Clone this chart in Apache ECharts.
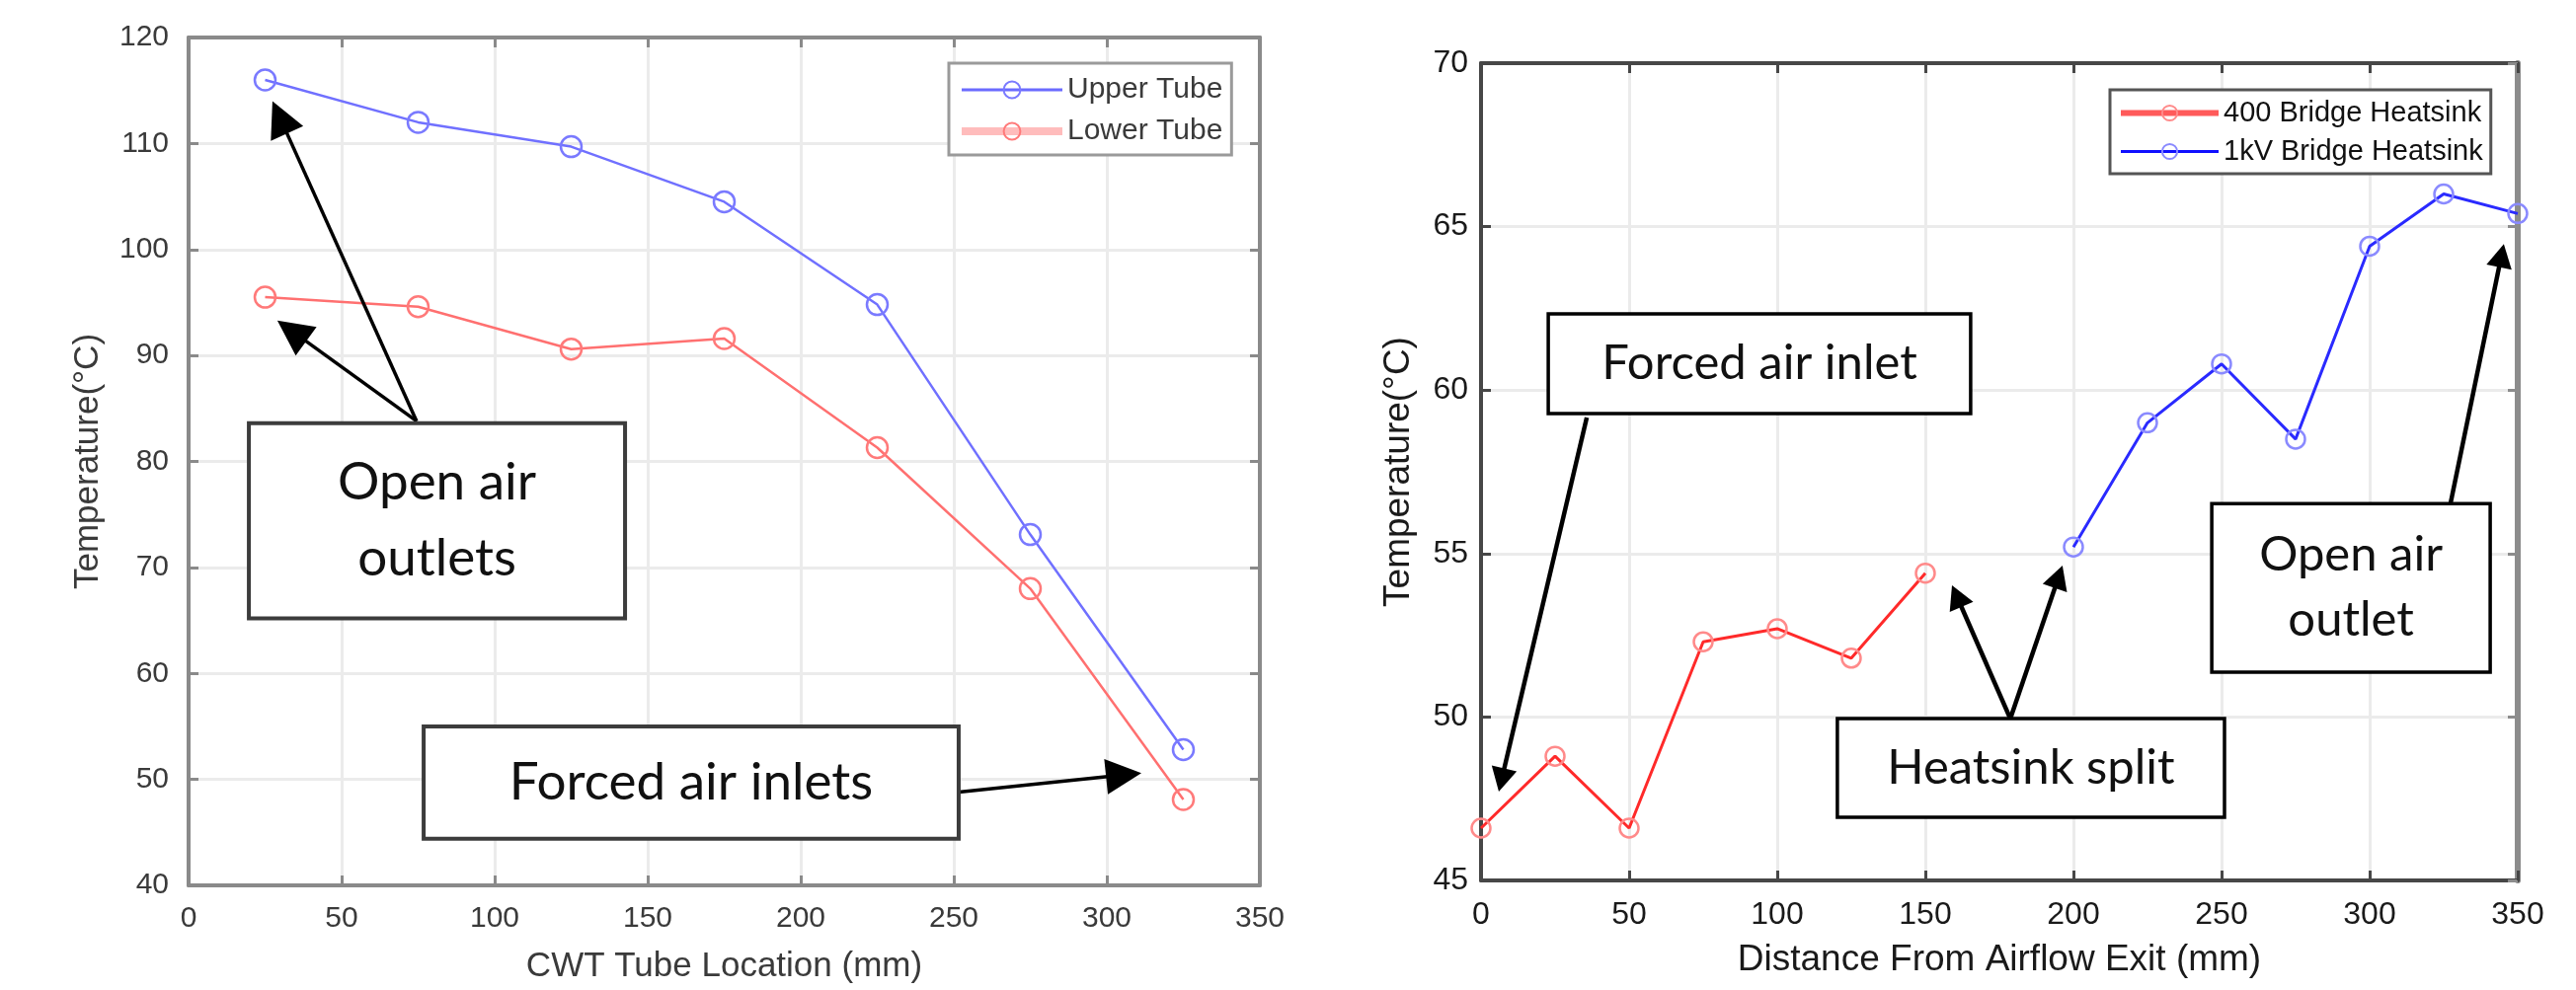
<!DOCTYPE html>
<html><head><meta charset="utf-8">
<script src="https://cdn.jsdelivr.net/npm/echarts@6/dist/echarts.min.js"></script>
<style>html,body{margin:0;padding:0;background:#fff}#c{width:2609px;height:1003px}</style>
</head><body><div id="c"></div>
<script>
// ---- data ----
const tubeLocation = [25, 75, 125, 175, 225, 275, 325];
const upperTube = [116.0, 112.0, 109.7, 104.5, 94.8, 73.1, 52.8];
const lowerTube = [95.5, 94.6, 90.6, 91.6, 81.3, 68.0, 48.1];
const dist400 = [0, 25, 50, 75, 100, 125, 150];
const bridge400 = [46.6, 48.8, 46.6, 52.3, 52.7, 51.8, 54.4];
const dist1k = [200, 225, 250, 275, 300, 325, 350];
const bridge1k = [55.2, 59.0, 60.8, 58.5, 64.4, 66.0, 65.4];
const leftXTicks = [0, 50, 100, 150, 200, 250, 300, 350];
const leftYTicks = [40, 50, 60, 70, 80, 90, 100, 110, 120];
const rightXTicks = [0, 50, 100, 150, 200, 250, 300, 350];
const rightYTicks = [45, 50, 55, 60, 65, 70];
const seriesNames = ['Upper Tube', 'Lower Tube', '400 Bridge Heatsink', '1kV Bridge Heatsink'];

// annotations (in data coordinates of each panel)
const leftNotes = [
  {box: [19.7, 83.6, 142.6, 65.2], text: 'Open air\noutlets', lh: 77,
   arrows: [[74.5, 83.8, 27.4, 114.0], [74.5, 83.8, 29.0, 93.3]]},
  {box: [76.8, 55.0, 251.6, 44.4], text: 'Forced air inlets', lh: 60,
   arrows: [[251.6, 48.8, 311.3, 50.6]]}
];
const rightNotes = [
  {box: [22.7, 62.33, 165.3, 59.28], text: 'Forced air inlet', lh: 60,
   arrows: [[35.7, 59.16, 6.0, 47.72]]},
  {box: [120.3, 49.95, 251.0, 46.93], text: 'Heatsink split', lh: 60,
   arrows: [[178.7, 49.95, 159.0, 54.03], [178.7, 49.95, 196.3, 54.63]]},
  {box: [246.7, 56.53, 340.7, 51.37], text: 'Open air\noutlet', lh: 66,
   arrows: [[327.3, 56.53, 345.3, 64.47]]}
];

const FONT = '"Liberation Sans", Arial, sans-serif';
const NOTEFONT = 'Lato, "Open Sans", sans-serif';

function pairs(xs, ys) { return xs.map((x, i) => [x, ys[i]]); }

function xAx(grid, ticks, pos, main, col, lw, name, fs, gap, labCol) {
  return {
    type: 'value', gridIndex: grid, position: pos,
    min: ticks[0], max: ticks[ticks.length - 1], interval: ticks[1] - ticks[0],
    name: main ? name : '', nameLocation: 'middle', nameGap: gap,
    nameTextStyle: {fontFamily: FONT, fontSize: fs + 5, color: labCol},
    axisLine: {show: true, onZero: false, lineStyle: {color: col, width: lw}},
    axisTick: {show: true, inside: true, length: 10, lineStyle: {color: col, width: 3}},
    axisLabel: {show: main, fontFamily: FONT, fontSize: fs, color: labCol, margin: 19},
    splitLine: {show: main, lineStyle: {color: '#ebebeb', width: 3}}
  };
}
function yAx(grid, ticks, pos, main, col, lw, name, fs, gap, labCol, margin) {
  return {
    type: 'value', gridIndex: grid, position: pos,
    min: ticks[0], max: ticks[ticks.length - 1], interval: ticks[1] - ticks[0],
    name: main ? name : '', nameLocation: 'middle', nameGap: gap,
    nameTextStyle: {fontFamily: FONT, fontSize: fs + 5, color: labCol},
    axisLine: {show: true, onZero: false, lineStyle: {color: col, width: lw}},
    axisTick: {show: true, inside: true, length: 10, lineStyle: {color: col, width: 3}},
    axisLabel: {show: main, fontFamily: FONT, fontSize: fs, color: labCol, margin: margin},
    splitLine: {show: main, lineStyle: {color: '#ebebeb', width: 3}}
  };
}

function lineSeries(name, data, xi, yi, lineCol, markCol, lw, size) {
  return {
    name: name, type: 'line', xAxisIndex: xi, yAxisIndex: yi, data: data,
    symbol: 'circle', symbolSize: size, showSymbol: true,
    lineStyle: {color: lineCol, width: lw},
    itemStyle: {color: 'rgba(255,255,255,0)', borderColor: markCol, borderWidth: 2.5},
    emphasis: {disabled: true}, animation: false, z: 3
  };
}

const chart = echarts.init(document.getElementById('c'), null, {renderer: 'canvas'});
chart.setOption({
  backgroundColor: '#ffffff',
  animation: false,
  grid: [
    {left: 191, top: 38, width: 1085, height: 859, containLabel: false},
    {left: 1500, top: 64, width: 1050, height: 828, containLabel: false}
  ],
  xAxis: [
    xAx(0, leftXTicks, 'bottom', true, '#8a8a8a', 4, 'CWT Tube Location (mm)', 30, 65, '#3a3a3a'),
    xAx(0, leftXTicks, 'top', false, '#8a8a8a', 4, '', 30, 0, '#3a3a3a'),
    xAx(1, rightXTicks, 'bottom', true, '#474747', 4, 'Distance From Airflow Exit (mm)', 32, 62, '#1a1a1a'),
    xAx(1, rightXTicks, 'top', false, '#474747', 4, '', 32, 0, '#1a1a1a')
  ],
  yAxis: [
    yAx(0, leftYTicks, 'left', true, '#8a8a8a', 4, 'Temperature(°C)', 30, 84, '#3a3a3a', 20),
    yAx(0, leftYTicks, 'right', false, '#8a8a8a', 4, '', 30, 0, '#3a3a3a', 20),
    yAx(1, rightYTicks, 'left', true, '#474747', 4, 'Temperature(°C)', 32, 65, '#1a1a1a', 13),
    yAx(1, rightYTicks, 'right', false, '#8c8c8c', 6, '', 32, 0, '#1a1a1a', 13)
  ],
  legend: [
    {
      orient: 'vertical', left: 961, top: 64, padding: [12, 9, 9, 9], itemGap: 12,
      itemWidth: 102, itemHeight: 21, backgroundColor: '#fff',
      borderColor: '#9a9a9a', borderWidth: 3, borderRadius: 0,
      textStyle: {fontFamily: FONT, fontSize: 30, color: '#3a3a3a'},
      data: [
        {name: seriesNames[0], lineStyle: {color: '#6b6bff', width: 3}},
        {name: seriesNames[1], lineStyle: {color: '#ffbcbc', width: 8}}
      ],
      selectedMode: false
    },
    {
      orient: 'vertical', left: 2137, top: 91, padding: [9, 8, 8, 8], itemGap: 10,
      itemWidth: 99, itemHeight: 19, backgroundColor: '#fff',
      borderColor: '#555555', borderWidth: 3, borderRadius: 0,
      textStyle: {fontFamily: FONT, fontSize: 29, color: '#111'},
      data: [
        {name: seriesNames[2], lineStyle: {color: '#ff5a5a', width: 6}},
        {name: seriesNames[3], lineStyle: {color: '#1010ff', width: 3}}
      ],
      selectedMode: false
    }
  ],
  series: [
    lineSeries(seriesNames[0], pairs(tubeLocation, upperTube), 0, 0, '#7070ff', '#7a7aff', 2.5, 21),
    lineSeries(seriesNames[1], pairs(tubeLocation, lowerTube), 0, 0, '#ff7070', '#ff7a7a', 2.5, 21),
    lineSeries(seriesNames[2], pairs(dist400, bridge400), 2, 2, '#ff2a2a', '#ff8a8a', 3, 19),
    lineSeries(seriesNames[3], pairs(dist1k, bridge1k), 2, 2, '#2a2aff', '#8a8aff', 3, 19)
  ]
});

function buildNotes(gridIndex, notes, opt) {
  const els = [];
  const P = (x, y) => chart.convertToPixel({gridIndex: gridIndex}, [x, y]);
  notes.forEach(n => {
    n.arrows.forEach(a => {
      const s = P(a[0], a[1]), t = P(a[2], a[3]);
      const dx = t[0] - s[0], dy = t[1] - s[1];
      const L = Math.hypot(dx, dy), ux = dx / L, uy = dy / L;
      const hl = opt.headLen, hw = opt.headW;
      const bx = t[0] - ux * hl, by = t[1] - uy * hl;
      els.push({type: 'line', z: 10, shape: {x1: s[0], y1: s[1], x2: bx + ux * 4, y2: by + uy * 4},
        style: {stroke: '#000', lineWidth: opt.arrowW}});
      els.push({type: 'polygon', z: 10, shape: {points: [t, [bx - uy * hw, by + ux * hw], [bx + uy * hw, by - ux * hw]]},
        style: {fill: '#000'}});
    });
    const a = P(n.box[0], n.box[1]), b = P(n.box[2], n.box[3]);
    els.push({type: 'rect', z: 11, shape: {x: a[0], y: a[1], width: b[0] - a[0], height: b[1] - a[1]},
      style: {fill: '#fff', stroke: opt.boxCol, lineWidth: opt.boxW}});
    els.push({type: 'text', z: 12, x: (a[0] + b[0]) / 2, y: (a[1] + b[1]) / 2,
      style: {text: n.text, fontFamily: NOTEFONT, fontSize: opt.fs, lineHeight: n.lh, fill: '#111',
        align: 'center', verticalAlign: 'middle', textAlign: 'center', textVerticalAlign: 'middle'}});
  });
  return els;
}

chart.setOption({
  graphic: buildNotes(0, leftNotes, {headLen: 36, headW: 18, arrowW: 3.5, boxCol: '#3c3c3c', boxW: 4, fs: 53})
    .concat(buildNotes(1, rightNotes, {headLen: 24, headW: 13, arrowW: 4.5, boxCol: '#000', boxW: 3.5, fs: 49}))
});
</script>
</body></html>
